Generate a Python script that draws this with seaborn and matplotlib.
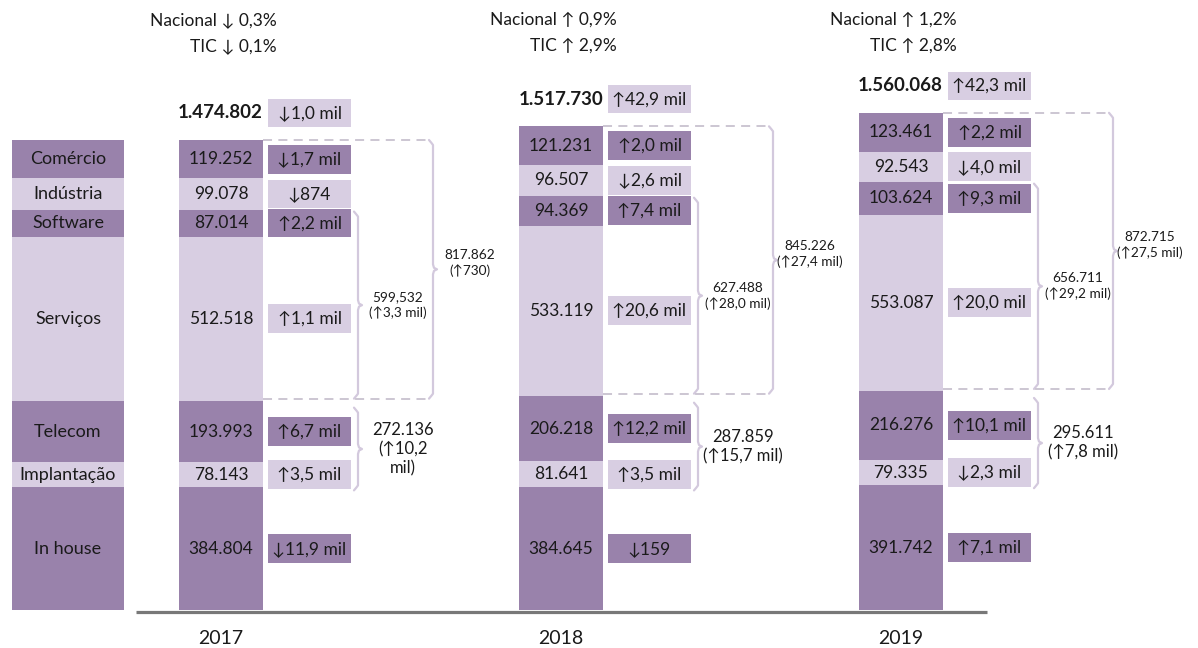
import numpy as np
import pandas as pd
import matplotlib
matplotlib.use('Agg')
import matplotlib.pyplot as plt
from matplotlib.patches import Rectangle
import seaborn as sns

# ---------------- data ----------------
years = ['2017', '2018', '2019']
categories = ['Comércio', 'Indústria', 'Software', 'Serviços', 'Telecom', 'Implantação', 'In house']

v2017 = [119252, 99078, 87014, 512518, 193993, 78143, 384804]
v2018 = [121231, 96507, 94369, 533119, 206218, 81641, 384645]
v2019 = [123461, 92543, 103624, 553087, 216276, 79335, 391742]

chg2017 = ['↓1,7 mil', '↓874', '↑2,2 mil', '↑1,1 mil', '↑6,7 mil', '↑3,5 mil', '↓11,9 mil']
chg2018 = ['↑2,0 mil', '↓2,6 mil', '↑7,4 mil', '↑20,6 mil', '↑12,2 mil', '↑3,5 mil', '↓159']
chg2019 = ['↑2,2 mil', '↓4,0 mil', '↑9,3 mil', '↑20,0 mil', '↑10,1 mil', '↓2,3 mil', '↑7,1 mil']

total_labels = ['1.474.802', '1.517.730', '1.560.068']
total_changes = ['↓1,0 mil', '↑42,9 mil', '↑42,3 mil']

group_sw_serv = ['599,532\n(↑3,3 mil)', '627.488\n(↑28,0 mil)', '656.711\n(↑29,2 mil)']
group_top4 = ['817.862\n(↑730)', '845.226\n(↑27,4 mil)', '872.715\n(↑27,5 mil)']
group_tel_impl = ['272.136\n(↑10,2\nmil)', '287.859\n(↑15,7 mil)', '295.611\n(↑7,8 mil)']

nacional = ['Nacional ↓ 0,3%', 'Nacional ↑ 0,9%', 'Nacional ↑ 1,2%']
tic = ['TIC ↓ 0,1%', 'TIC ↑ 2,9%', 'TIC ↑ 2,8%']

# ---------------- style ----------------
sns.set_theme(style='white')
plt.rcParams['font.family'] = ['Lato', 'DejaVu Sans']

DARK = '#9982ab'
LIGHT = '#d8cee2'
TXT = '#1a1a1a'
BRACE = '#d3c9dd'
DASH = '#c8c1cf'
colors = [DARK, LIGHT, DARK, LIGHT, DARK, LIGHT, DARK]

W, H = 1198, 648
fig = plt.figure(figsize=(W / 100, H / 100), dpi=100)
ax = fig.add_axes([0, 0, 1, 1])

vals = np.array([v2017, v2018, v2019], dtype=float)
changes = [chg2017, chg2018, chg2019]
cum = np.array([[row[i:].sum() for i in range(len(categories))] for row in vals])
mids = cum - vals / 2

# layout (pixel units on x; y scaled so that pixel 610 is the baseline)
BASE_PX = 610
PX = vals[0].sum() / 470.0          # data units per pixel
centers = np.array([221, 561, 901])
BAR_W = 84
LEG_X, LEG_W = 68, 112
BOX_W = 83

FS = 12.5

def ypx(p):
    return (BASE_PX - p) * PX

# ---------------- stacked bars (cumulative overlay) ----------------
for i in range(len(categories)):
    df = pd.DataFrame({'pos': centers, 'val': cum[:, i]})
    sns.barplot(data=df, x='pos', y='val', native_scale=True, width=BAR_W / 340,
                color=colors[i], saturation=1, errorbar=None, linewidth=0, ax=ax, zorder=2)
    dfl = pd.DataFrame({'pos': [LEG_X], 'val': [cum[0, i]]})
    sns.barplot(data=dfl, x='pos', y='val', native_scale=True, width=LEG_W,
                color=colors[i], saturation=1, errorbar=None, linewidth=0, ax=ax, zorder=2)

# baseline
ax.plot([136, 987], [-1.5 * PX, -1.5 * PX], color='#787878', lw=2.3, zorder=1,
        solid_capstyle='butt')

# legend column labels
for i, cat in enumerate(categories):
    ax.text(LEG_X, mids[0, i], cat, ha='center', va='center', fontsize=13, color=TXT, zorder=5)

def brace(x, top, bot, color=BRACE):
    c = 5 * PX
    m = (top + bot) / 2
    xs = [x - 4, x - 1.5, x, x, x + 1, x + 4, x + 1, x, x, x - 1.5, x - 4]
    ys = [top, top - 0.6 * c, top - c, m + c, m + 0.3 * c, m, m - 0.3 * c, m - c, bot + c, bot + 0.6 * c, bot]
    ax.plot(xs, ys, color=color, lw=1.6, zorder=3, solid_capstyle='round', solid_joinstyle='round')
    return m

for j, yr in enumerate(years):
    cx = centers[j]
    right = cx + BAR_W / 2
    bx = right + 5
    # values inside bars + change boxes
    for i in range(len(categories)):
        ax.text(cx, mids[j, i], f"{int(vals[j, i]):,}".replace(',', '.'), ha='center', va='center',
                fontsize=FS, color=TXT, zorder=5)
        d = []
        if i > 0:
            d.append((mids[j, i - 1] - mids[j, i]) / PX)
        if i < len(categories) - 1:
            d.append((mids[j, i] - mids[j, i + 1]) / PX)
        half = min(14.5, min(d) / 2 - 0.8)
        ax.add_patch(Rectangle((bx, mids[j, i] - half * PX), BOX_W, 2 * half * PX,
                               facecolor=colors[i], edgecolor='none', zorder=3))
        ax.text(bx + BOX_W / 2, mids[j, i], changes[j][i], ha='center', va='center',
                fontsize=FS, color=TXT, zorder=5)
    # total
    ty = cum[j, 0] + 27 * PX
    ax.add_patch(Rectangle((bx, ty - 14 * PX), BOX_W, 28 * PX, facecolor=LIGHT,
                           edgecolor='none', zorder=3))
    ax.text(bx + BOX_W / 2, ty, total_changes[j], ha='center', va='center', fontsize=FS,
            color=TXT, zorder=5)
    ax.text(right, ty, total_labels[j], ha='right', va='center', fontsize=13.5,
            fontweight='bold', color=TXT, zorder=5)

    # brackets
    small_x = bx + BOX_W + 7
    large_x = bx + BOX_W + 82
    m = brace(small_x, cum[j, 2] - 2 * PX, cum[j, 4] + 2 * PX)
    ax.text(small_x + 40, m, group_sw_serv[j], ha='center', va='center', fontsize=9.8,
            color=TXT, linespacing=1.3, zorder=5)
    m = brace(large_x, cum[j, 0], cum[j, 4] + 2 * PX)
    ax.text(large_x + 37, m + 6 * PX, group_top4[j], ha='center', va='center', fontsize=9.8,
            color=TXT, linespacing=1.3, zorder=5)
    for yv in (cum[j, 0], cum[j, 4] + 2 * PX):
        ax.plot([right, large_x - 4], [yv, yv], color=DASH, lw=1.3, ls=(0, (5, 3.5)), zorder=3)
    m = brace(small_x, cum[j, 4] - 7 * PX, cum[j, 6] - 3 * PX)
    ax.text(small_x + 45, m, group_tel_impl[j], ha='center', va='center', fontsize=12,
            color=TXT, linespacing=1.25, zorder=5)

    # header
    ax.text(right + 14, ypx(20), nacional[j], ha='right', va='center', fontsize=FS, color=TXT)
    ax.text(right + 14, ypx(46), tic[j], ha='right', va='center', fontsize=FS, color=TXT)
    # year
    ax.text(cx, ypx(638), yr, ha='center', va='center', fontsize=14, color=TXT)

ax.set_xlim(0, W)
ax.set_ylim(ypx(H), ypx(0))
ax.axis('off')

fig.savefig('out.png', dpi=100, facecolor='white')
